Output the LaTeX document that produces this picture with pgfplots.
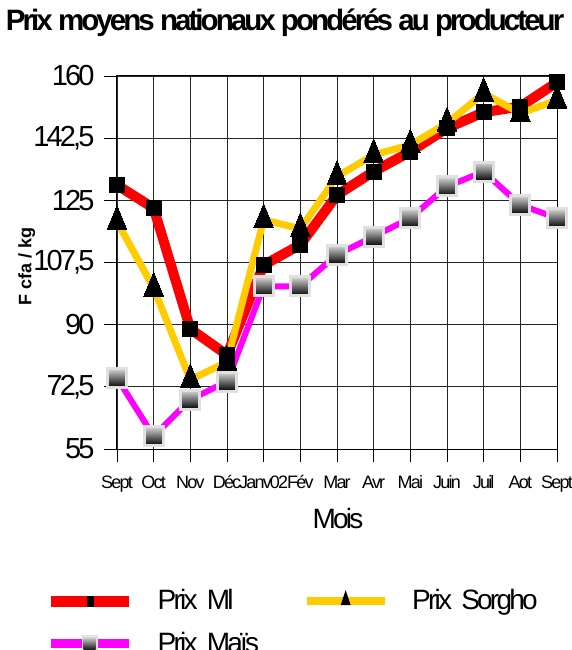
\documentclass[border=0pt]{standalone}
\usepackage{fontspec}
\setmainfont{Liberation Sans}
\newfontfamily\cond[LetterSpace=-10]{Liberation Sans}
\usepackage{pgfplots}
\pgfplotsset{compat=1.18}
\definecolor{milred}{RGB}{255,0,0}
\definecolor{sorgho}{RGB}{255,204,0}
\definecolor{mais}{RGB}{255,0,255}
\tikzset{maismark/.style={draw=black!12, line width=3pt, top color=black!15, bottom color=black, minimum size=19pt, inner sep=0pt, anchor=center, shape=rectangle}}
\begin{document}
\begin{tikzpicture}
\begin{axis}[
  at={(0,0)}, anchor=south west,
  scale only axis, width=440pt, height=373pt,
  xmin=0, xmax=12, ymin=55, ymax=160,
  xtick={0,...,12},
  xticklabels={Sept,Oct,Nov,Déc,Janv02,Fév,Mar,Avr,Mai,Juin,Juil,Aot,Sept},
  ytick={55,72.5,90,107.5,125,142.5,160},
  yticklabels={55,{72,5},90,{107,5},125,{142,5},160},
  grid=major, major grid style={black!85, line width=0.8pt},
  axis line style={black, line width=1pt},
  tick align=outside, major tick length=13pt, tick style={black, line width=0.8pt},
  xtick pos=bottom, ytick pos=left,
  x tick label style={font=\fontsize{18}{18}\cond, anchor=base, yshift=-26pt},
  y tick label style={font=\fontsize{29}{29}\cond, xshift=-6pt},
  title={Prix moyens nationaux pondérés au producteur},
  title style={at={(0.382,1.1054)}, anchor=base, font=\fontsize{29.5}{29.5}\cond\bfseries},
  xlabel={Mois},
  xlabel style={at={(0.502,-0.185)}, anchor=center, font=\fontsize{28}{28}\cond},
  ylabel={F cfa / kg},
  ylabel style={at={(-0.205,0.49)}, anchor=center, font=\fontsize{18}{18}\selectfont\bfseries},
  legend columns=2,
  legend style={at={(-0.1705,-0.37)}, anchor=north west, draw=none, fill=none,
    column sep=0pt, row sep=21pt,
    nodes={font=\fontsize{28}{28}\cond, inner xsep=0pt, inner ysep=0pt, text width=145pt, align=left}},
]
\addplot[milred, line width=10pt, mark=square*, mark size=7.5pt, mark options={black, line width=0pt},
  legend image code/.code={
    \path[draw=milred, line width=11pt] (0pt,-1pt) -- (78pt,-1pt);
    \path[fill=black, draw=none] (36pt,-7pt) rectangle (43pt,4pt);
    \path (102pt,0pt);}]
coordinates {(0,129.3)(1,122.8)(2,88.8)(3,81.5)(4,106.8)(5,112.5)(6,126.5)(7,133.1)(8,138.7)(9,145.3)(10,149.8)(11,151.4)(12,158.2)};
\addlegendentry{Prix Ml}
\addplot[sorgho, line width=7pt, mark=triangle*, mark size=11.5pt, mark options={black, line width=0pt, yscale=1.4},
  legend image code/.code={
    \path[draw=sorgho, line width=8pt] (0pt,-1pt) -- (78pt,-1pt);
    \path[fill=black, draw=none] (34pt,-5pt) -- (44pt,-5pt) -- (39pt,10pt) -- cycle;
    \path (102pt,0pt);}]
coordinates {(0,119)(1,100.3)(2,74.5)(3,79.5)(4,119.5)(5,117)(6,131.7)(7,137.8)(8,140.6)(9,146.7)(10,155.1)(11,149.5)(12,153.2)};
\addlegendentry{Prix Sorgho}
\addplot[mais, line width=6pt, mark=none,
  nodes near coords={}, every node near coord/.style={maismark},
  legend image code/.code={
    \path[draw=mais, line width=9pt] (0pt,-1pt) -- (78pt,-1pt);
    \path[draw=black!12, line width=2pt, fill=black!12] (32pt,-9pt) rectangle (46pt,7pt);
    \shade[top color=black!15, bottom color=black, draw=none] (33pt,-8pt) rectangle (45pt,6pt);
    \path (102pt,0pt);}]
coordinates {(0,75)(1,58.6)(2,68.9)(3,74)(4,100.8)(5,100.8)(6,109.7)(7,114.8)(8,120)(9,128.9)(10,133.1)(11,123.7)(12,120)};
\addlegendentry{Prix Maïs}
\end{axis}
\pgfresetboundingbox
\useasboundingbox (-117pt,-201pt) rectangle (455pt,449pt);
\end{tikzpicture}
\end{document}
